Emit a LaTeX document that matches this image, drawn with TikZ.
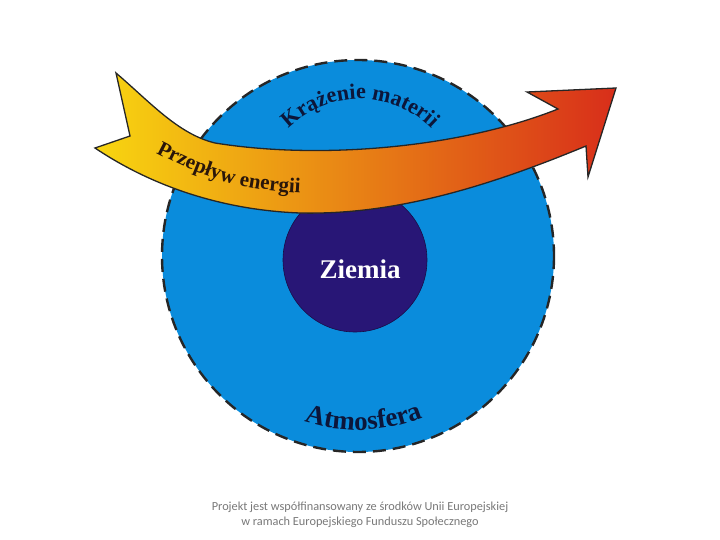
\documentclass[tikz,border=0pt]{standalone}
\usepackage{fontspec}
\setmainfont{Liberation Serif}
\newfontfamily\footerfont{Carlito}
\usetikzlibrary{decorations.text}

\definecolor{atmoblue}{RGB}{10,140,220}
\definecolor{earthpurple}{RGB}{40,22,118}
\definecolor{labelnavy}{RGB}{12,22,58}
\definecolor{labelbrown}{RGB}{42,22,10}
\definecolor{flowyellow}{RGB}{248,214,16}
\definecolor{floworange}{RGB}{234,138,32}
\definecolor{flowred}{RGB}{216,46,26}
\definecolor{footergray}{RGB}{120,120,120}

\newcommand{\arclabelfont}[2]{\color{#1}\fontsize{#2}{#2}\selectfont\bfseries}

\tikzset{
  ringline/.style={draw=black!85,line width=2.4pt,dash pattern=on 13pt off 7pt},
  arclabel/.style={decorate,decoration={text along path,text align=center,text={#1}}}
}

\begin{document}
\begin{tikzpicture}[x=1pt,y=-1pt]
  \useasboundingbox (0,0) rectangle (720,540);
  % atmosphere and earth
  \fill[atmoblue] (358,256) circle (196);
  \draw[ringline] (358,256) circle (196);
  \fill[earthpurple] (355,260) circle (72);
  \draw[earthpurple!60!black,line width=0.6pt] (355,260) circle (72);
  \node[text=white,font=\fontsize{27}{27}\selectfont\bfseries] (ziemia) at (360,269) {Ziemia};
  \path[arclabel={|\arclabelfont{labelnavy}{27}|Atmosfera}]
    (358,256) ++(117:174) arc[start angle=117,end angle=59,radius=174];
  \path[arclabel={|\arclabelfont{labelnavy}{22}|Krążenie materii}]
    (360,200) ++(224:101) arc[start angle=224,end angle=316,radius=101];
  % energy flow ribbon
  \draw[line width=1.3pt,draw=black!85,left color=flowyellow,middle color=floworange,right color=flowred]
    (116,73) .. controls (150,102) and (178,134) .. (215,143)
    .. controls (320,160) and (460,148) .. (558,109)
    -- (527,92) -- (616,88) -- (588,177) -- (586,146)
    .. controls (480,190) and (390,215) .. (300,213)
    .. controls (220,210) and (150,185) .. (95,148)
    -- (130,136) -- cycle;
  \path[decorate,decoration={text along path,text align=left,
      text={|\arclabelfont{labelbrown}{21}|Przepływ energii}}]
    (156,153) .. controls (200,176) and (235,190) .. (305,193);
  % footer
  \node[text=footergray,font=\footerfont\fontsize{12.3}{14.5}\selectfont,align=center] (footer) at (360,515)
    {Projekt jest współfinansowany ze środków Unii Europejskiej\\w ramach Europejskiego Funduszu Społecznego};
\end{tikzpicture}
\end{document}
